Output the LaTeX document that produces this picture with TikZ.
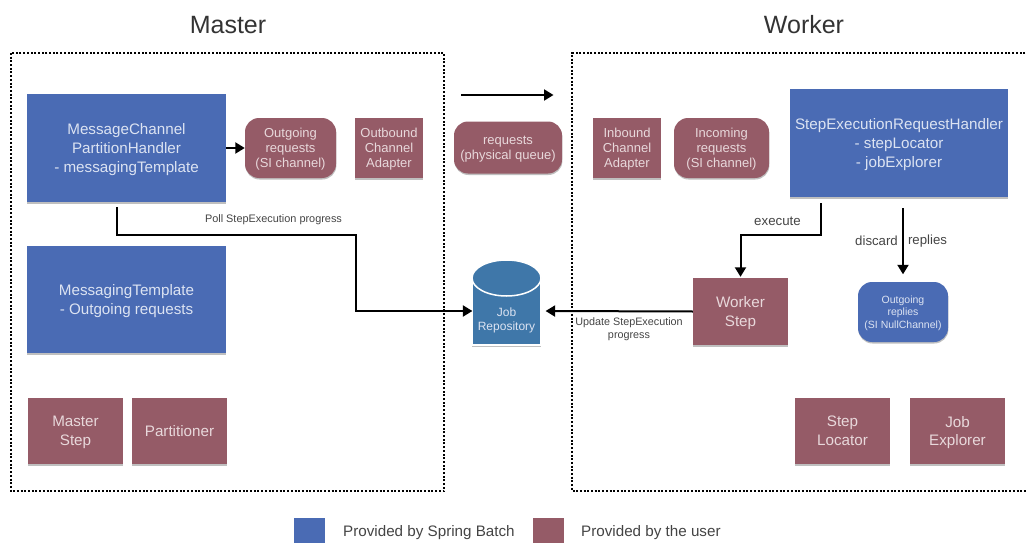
\documentclass[tikz,border=0pt]{standalone}
\usepackage{fontspec}
\setmainfont{Liberation Sans}
\usetikzlibrary{arrows.meta,shadows,calc,shapes.geometric}
\definecolor{sbblue}{HTML}{4A6BB4}
\definecolor{usermaroon}{HTML}{955B67}
\definecolor{repoblue}{HTML}{3F77A9}
\definecolor{bluetext}{HTML}{DCE3F2}
\definecolor{maroontext}{HTML}{E8D8DB}
\definecolor{labeltext}{HTML}{444444}
\tikzset{
  softshadow/.style={drop shadow={shadow xshift=0.4pt,shadow yshift=-1.5pt,opacity=0.25,fill=black}},
  basebox/.style={inner sep=0pt,align=center,font=\fontsize{15.2}{18.8}\selectfont,softshadow,text depth=-2pt},
  bluebox/.style={basebox,fill=sbblue,text=bluetext},
  userbox/.style={basebox,fill=usermaroon,text=maroontext},
  roundbox/.style={rounded corners=14pt},
  smalltext/.style={font=\fontsize{13}{15}\selectfont},
  dotbox/.style={draw=black,line width=2.6pt,dash pattern=on 2pt off 1.7pt},
  conn/.style={draw=black,line width=2pt,-{Triangle[length=9.5pt,width=11pt]}},
  lbl/.style={text=labeltext,inner sep=0pt,align=center},
  title/.style={inner sep=0pt,font=\fontsize{25}{30}\selectfont,text=black!80},
  swatch/.style={inner sep=0pt,minimum width=31pt,minimum height=27pt}
}
\begin{document}
\begin{tikzpicture}[x=1pt,y=-1pt]
\useasboundingbox (0,0) rectangle (1026,543);
\clip (0,0) rectangle (1026,543);
\node[title] (mastertitle) at (228,25) {Master};
\node[title] (workertitle) at (804,25) {Worker};
\draw[dotbox] (11,53) rectangle (444,491);
\draw[dotbox] (1040,53) -- (572,53) -- (572,491) -- (1040,491);
% master
\node[bluebox,minimum width=199pt,minimum height=108pt] (mch) at (126.5,148) {MessageChannel\\PartitionHandler\\- messagingTemplate};
\node[userbox,roundbox,smalltext,minimum width=91pt,minimum height=60pt] (outreq) at (290.5,148) {Outgoing\\requests\\(SI channel)};
\node[userbox,smalltext,minimum width=68pt,minimum height=60pt] (outad) at (389,148) {Outbound\\Channel\\Adapter};
\node[bluebox,minimum width=199pt,minimum height=107pt] (mt) at (126.5,299.5) {MessagingTemplate\\- Outgoing requests};
\node[userbox,minimum width=95pt,minimum height=66pt] (mstep) at (75.5,431) {Master\\Step};
\node[userbox,minimum width=95pt,minimum height=66pt] (part) at (179.5,431) {Partitioner};
% middle
\node[userbox,roundbox,smalltext,minimum width=108pt,minimum height=52pt] (queue) at (508,147.5) {requests\\(physical queue)};
\node[basebox,fill=repoblue,draw=white,line width=1.2pt,minimum width=69pt,minimum height=68pt] (repo) at (506.5,311) {};
\node[lbl,text=bluetext,font=\fontsize{12}{14.5}\selectfont] (repolabel) at (506.5,320.5) {Job\\Repository};
\node[draw=white,line width=1.5pt,fill=repoblue,ellipse,inner sep=0pt,minimum width=69pt,minimum height=36pt] (repotop) at (506.5,278) {};
% worker
\node[userbox,smalltext,minimum width=68pt,minimum height=60pt] (inad) at (627,148) {Inbound\\Channel\\Adapter};
\node[userbox,roundbox,smalltext,minimum width=95pt,minimum height=60pt] (inreq) at (721.5,148) {Incoming\\requests\\(SI channel)};
\node[bluebox,minimum width=218pt,minimum height=108pt] (serh) at (899,143) {StepExecutionRequestHandler\\- stepLocator\\- jobExplorer};
\node[userbox,minimum width=95pt,minimum height=67pt] (wstep) at (740.5,311.5) {Worker\\Step};
\node[bluebox,roundbox,font=\fontsize{10.5}{12.5}\selectfont,minimum width=90pt,minimum height=60pt] (replies) at (903,312) {Outgoing\\replies\\(SI NullChannel)};
\node[userbox,minimum width=95pt,minimum height=66pt] (sloc) at (842.5,431) {Step\\Locator};
\node[userbox,minimum width=95pt,minimum height=66pt] (jexp) at (957.5,431) {Job\\Explorer};
% free ends
\coordinate (flowstart) at (461,95);
\coordinate (flowend) at (553.5,95);
\coordinate (pollstart) at (117,207);
\coordinate (pollbend) at (356,235);
\coordinate (execstart) at (821,203);
\coordinate (discstart) at (903,208);
% connectors
\draw[conn] (flowstart) -- (flowend);
\draw[conn] (mch.east |- outreq.west) -- (outreq.west);
\draw[conn] (pollstart) |- (pollbend) |- ($(repo.west)+(1,0)$);
\draw[conn] (wstep.west) -- ($(repo.east)+(4,0)$);
\draw[conn] (execstart) |- ($(wstep.north)+(0,-43)$) -- ($(wstep.north)+(0,-1)$);
\draw[conn] (discstart) -- ($(replies.north)+(0,-7.5)$);
% labels
\node[lbl,font=\fontsize{10.9}{12}\selectfont] (polllabel) at (273.5,220) {Poll StepExecution progress};
\node[lbl,font=\fontsize{10.8}{13}\selectfont] (updlabel) at (629,329.5) {Update StepExecution\\progress};
\node[lbl,font=\fontsize{13.3}{15}\selectfont] (execlabel) at (777.5,221) {execute};
\node[lbl,font=\fontsize{13.2}{15}\selectfont] (disclabel) at (876.5,241) {discard};
\node[lbl,font=\fontsize{13.2}{15}\selectfont] (replabel) at (927.5,241) {replies};
% legend
\node[swatch,fill=sbblue] (legblue) at (309.5,531.5) {};
\node[lbl,anchor=west,font=\fontsize{15.2}{17}\selectfont] (legbluetext) at (343,532.5) {Provided by Spring Batch};
\node[swatch,fill=usermaroon] (legmaroon) at (548,531.5) {};
\node[lbl,anchor=west,font=\fontsize{15.2}{17}\selectfont] (legmaroontext) at (581,532.5) {Provided by the user};
\end{tikzpicture}
\end{document}
